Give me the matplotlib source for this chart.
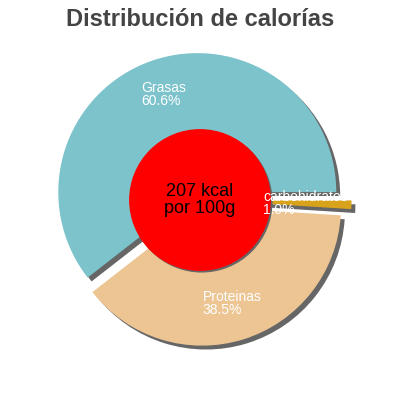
import numpy as np
import matplotlib
matplotlib.use("Agg")
import matplotlib.pyplot as plt
from matplotlib.patches import Circle, Rectangle

categories = ["Grasas", "Proteinas", "carbohidratos"]
values = [60.6, 38.5, 1.0]
pct_labels = ["60.6%", "38.5%", "1.0%"]
colors = ["#7cc3cb", "#ecc593", "#d9a21b"]
explode = [0.06, 0.05, 0.09]
center_text = "207 kcal\npor 100g"
title = "Distribución de calorías"

plt.rcParams['font.family'] = ['Liberation Sans', 'DejaVu Sans']

fig = plt.figure(figsize=(4, 4), dpi=100)
ax = fig.add_axes([0, 0, 1, 1])

sh = 0.028
# shadows
ax.pie(values, explode=explode, colors=["#666666"] * 3, startangle=0,
       counterclock=True, radius=1.0, center=(sh, -sh),
       wedgeprops=dict(linewidth=0, zorder=1))
wedges, _ = ax.pie(values, explode=explode, colors=colors, startangle=0,
                   counterclock=True, radius=1.0, center=(0, 0),
                   wedgeprops=dict(linewidth=0, zorder=2))
for w in wedges:
    w.set_zorder(2)

lim = 200 / 139
ax.set_xlim(-lim, lim)
ax.set_ylim(-lim, lim)
ax.set_aspect('equal')
ax.axis('off')

ax.add_patch(Circle((0.012, -0.012), 0.505, color="#666666", zorder=3))
ax.add_patch(Circle((0, 0), 0.505, color="#ff0000", zorder=4))
ax.text(0, 0, center_text, ha='center', va='center', fontsize=13,
        color='black', zorder=6, linespacing=1.0)

total = sum(values)
start = 0.0
label_r = [0.74, 0.73, 0.67]
clip = Rectangle((-lim, -lim), lim + 1.03, 2 * lim, transform=ax.transData)
for i, v in enumerate(values):
    ang = np.deg2rad(start + v / total * 360 / 2)
    r = label_r[i] + explode[i]
    x = r * np.cos(ang)
    y = r * np.sin(ang)
    t = ax.text(x, y, categories[i] + "\n" + pct_labels[i], ha='center', va='center',
                multialignment='left', fontsize=10, color='white', zorder=7,
                linespacing=0.92)
    t.set_clip_path(clip)
    start += v / total * 360

fig.text(0.5, 0.952, title, ha='center', va='center', fontsize=17,
         fontweight='bold', color='#444444')

fig.savefig("out.png", dpi=100)
